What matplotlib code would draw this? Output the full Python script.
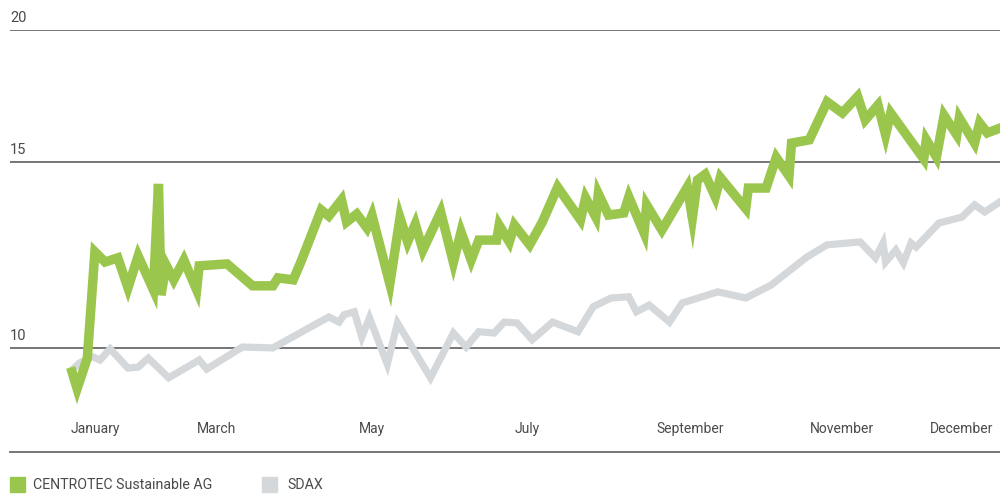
import matplotlib
matplotlib.use("Agg")
import matplotlib.pyplot as plt
from matplotlib.patches import Rectangle

plt.rcParams['font.family'] = ['Roboto', 'DejaVu Sans']

# share price, day of year -> value (log scale)
centrotec_days = [0, 2, 6, 9, 13, 18, 22, 26, 32, 34, 35, 37, 40, 44, 49, 50, 61, 71, 79, 81,
                  87, 90, 98, 101, 106, 108, 112, 116, 118, 125, 129, 132, 135, 138, 145, 150,
                  153, 157, 160, 167, 168, 172, 174, 180, 185, 191, 200, 202, 206, 207, 211,
                  217, 219, 225, 226, 232, 242, 244, 246, 249, 253, 255, 265, 266, 273, 277,
                  282, 283, 290, 297, 303, 309, 312, 317, 320, 322, 335, 336, 340, 343, 348,
                  349, 355, 357, 360, 365]
centrotec_vals = [9.49, 9.15, 9.78, 12.33, 12.06, 12.17, 11.40, 12.22, 11.35, 14.3, 11.22,
                  11.98, 11.60, 12.11, 11.35, 11.96, 12.01, 11.45, 11.45, 11.65, 11.60, 12.06,
                  13.51, 13.33, 13.81, 13.16, 13.39, 12.99, 13.35, 11.50, 13.28, 12.60, 13.10,
                  12.38, 13.45, 12.05, 12.88, 12.11, 12.65, 12.65, 13.07, 12.60, 13.07, 12.52,
                  13.16, 14.20, 13.22, 13.87, 13.30, 14.00, 13.36, 13.42, 13.90, 12.85, 13.66,
                  12.93, 14.20, 13.28, 14.42, 14.60, 13.90, 14.50, 13.55, 14.17, 14.17, 15.15,
                  14.55, 15.63, 15.74, 17.10, 16.69, 17.30, 16.44, 16.98, 15.91, 16.69, 15.10,
                  15.74, 15.16, 16.60, 15.91, 16.51, 15.63, 16.33, 15.98, 16.15]

sdax_days = [0, 3, 8, 11, 15, 22, 26, 30, 38, 50, 53, 67, 79, 101, 105, 107, 111, 114, 117,
             124, 128, 141, 150, 155, 160, 166, 170, 175, 181, 189, 199, 205, 212, 219, 222,
             227, 235, 240, 254, 265, 275, 289, 297, 310, 316, 319, 320, 324, 327, 330, 332,
             341, 350, 355, 359, 365]
sdax_vals = [9.53, 9.68, 9.81, 9.74, 9.98, 9.57, 9.59, 9.78, 9.37, 9.74, 9.55, 10.02, 10.00,
             10.70, 10.58, 10.75, 10.82, 10.24, 10.68, 9.65, 10.56, 9.37, 10.33, 10.02, 10.36,
             10.33, 10.58, 10.56, 10.18, 10.58, 10.36, 10.94, 11.15, 11.18, 10.82, 10.98,
             10.58, 11.03, 11.30, 11.15, 11.47, 12.19, 12.52, 12.60, 12.17, 12.57, 12.06,
             12.38, 12.04, 12.57, 12.46, 13.13, 13.30, 13.66, 13.45, 13.75]

month_pos = [9, 57, 118, 179, 243, 303, 350]
month_labels = ["January", "March", "May", "July", "September", "November", "December"]
y_ticks = [10, 15, 20]

green = "#9bc64d"
grey = "#d5d8db"
line_col = "#6a6a6a"
text_col = "#4a4a4a"

fig = plt.figure(figsize=(10, 4.95), dpi=100)
ax = fig.add_axes([0.01, 1 - 452 / 495, 0.99, (452 - 30) / 495])
ax.set_yscale("log")
ax.set_ylim(7.97, 20)
ax.set_xlim(-24.4, 365)

for v in y_ticks:
    ax.axhline(v, color=line_col, lw=1.3, zorder=1)
    ax.annotate(str(v), xy=(0, v), xycoords=("axes fraction", "data"),
                xytext=(0, 3.5), textcoords="offset points",
                ha="left", va="bottom", fontsize=10.5, color=text_col)

ax.plot(sdax_days, sdax_vals, color=grey, lw=5.2, solid_joinstyle="miter", zorder=2)
ax.plot(centrotec_days, centrotec_vals, color=green, lw=6.8, solid_joinstyle="miter", zorder=3)

ax.yaxis.set_major_locator(matplotlib.ticker.NullLocator())
ax.yaxis.set_minor_locator(matplotlib.ticker.NullLocator())
ax.set_xticks(month_pos, month_labels)
ax.tick_params(axis="x", length=0, pad=-21.5, labelsize=10, labelcolor=text_col)
for s in ["top", "left", "right"]:
    ax.spines[s].set_visible(False)
ax.spines["bottom"].set_color(line_col)
ax.spines["bottom"].set_linewidth(1.3)

# legend
fig.add_artist(Rectangle((10 / 1000, 1 - 492 / 495), 15 / 1000, 15 / 495,
                         transform=fig.transFigure, color=green))
fig.text(33 / 1000, 1 - 485 / 495, "CENTROTEC Sustainable AG", va="center", ha="left",
         fontsize=10.2, color=text_col)
fig.add_artist(Rectangle((262 / 1000, 1 - 492 / 495), 15 / 1000, 15 / 495,
                         transform=fig.transFigure, color=grey))
fig.text(287 / 1000, 1 - 485 / 495, "SDAX", va="center", ha="left",
         fontsize=10.2, color=text_col)

fig.savefig("out.png", dpi=100)
